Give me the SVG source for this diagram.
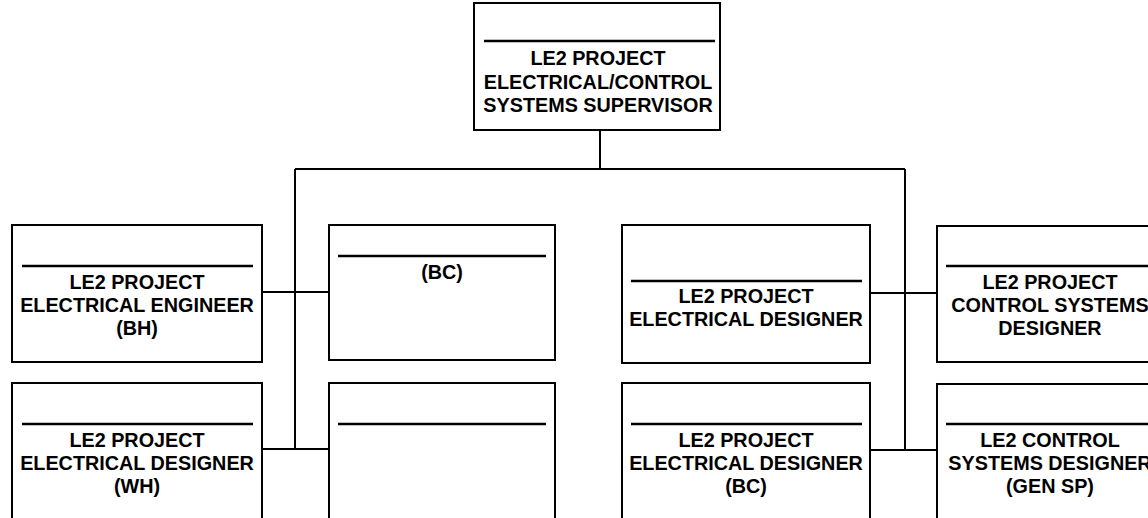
<svg xmlns="http://www.w3.org/2000/svg" width="1148" height="518" viewBox="0 0 1148 518">
<style>
.box{fill:#fff;stroke:#000;stroke-width:2}
.sep{stroke:#000;stroke-width:2.5}
.conn{fill:none;stroke:#000;stroke-width:2}
text{font-family:"Liberation Sans",Arial,sans-serif;font-weight:bold;font-size:19.8px;text-anchor:middle;fill:#000}
</style>
<rect width="1148" height="518" fill="#fff"/>
<g id="connectors">
<path class="conn" d="M600,130 V169 M295,169 H905 M295,169 V449 M905,169 V450 M262,292 H329 M262,449 H329 M870,293 H937 M870,450 H937"/>
</g>
<g id="supervisor">
<rect class="box" x="474" y="3" width="246" height="127"/>
<line class="sep" x1="484" y1="41" x2="715" y2="41"/>
<text x="598" y="65">LE2 PROJECT</text>
<text x="598" y="89">ELECTRICAL/CONTROL</text>
<text x="598" y="112">SYSTEMS SUPERVISOR</text>
</g>
<g id="electrical-engineer">
<rect class="box" x="12" y="225" width="250" height="137"/>
<line class="sep" x1="22" y1="266" x2="253" y2="266"/>
<text x="137" y="289">LE2 PROJECT</text>
<text x="137" y="312">ELECTRICAL ENGINEER</text>
<text x="137" y="335">(BH)</text>
</g>
<g id="bc">
<rect class="box" x="329" y="225" width="226" height="135"/>
<line class="sep" x1="338" y1="256" x2="546" y2="256"/>
<text x="442" y="279">(BC)</text>
</g>
<g id="electrical-designer">
<rect class="box" x="622" y="225" width="248" height="138"/>
<line class="sep" x1="631" y1="281" x2="862" y2="281"/>
<text x="746" y="303">LE2 PROJECT</text>
<text x="746" y="326">ELECTRICAL DESIGNER</text>
</g>
<g id="control-systems-designer">
<rect class="box" x="937" y="226" width="228" height="136"/>
<line class="sep" x1="946" y1="266" x2="1160" y2="266"/>
<text x="1050" y="289">LE2 PROJECT</text>
<text x="1050" y="312">CONTROL SYSTEMS</text>
<text x="1050" y="335">DESIGNER</text>
</g>
<g id="electrical-designer-wh">
<rect class="box" x="12" y="383" width="250" height="142"/>
<line class="sep" x1="22" y1="424" x2="253" y2="424"/>
<text x="137" y="447">LE2 PROJECT</text>
<text x="137" y="470">ELECTRICAL DESIGNER</text>
<text x="137" y="493">(WH)</text>
</g>
<g id="empty">
<rect class="box" x="329" y="383" width="226" height="142"/>
<line class="sep" x1="338" y1="424" x2="546" y2="424"/>
</g>
<g id="electrical-designer-bc">
<rect class="box" x="622" y="383" width="248" height="142"/>
<line class="sep" x1="631" y1="424" x2="862" y2="424"/>
<text x="746" y="447">LE2 PROJECT</text>
<text x="746" y="470">ELECTRICAL DESIGNER</text>
<text x="746" y="493">(BC)</text>
</g>
<g id="control-systems-designer-gen-sp">
<rect class="box" x="937" y="384" width="228" height="141"/>
<line class="sep" x1="946" y1="424" x2="1160" y2="424"/>
<text x="1050" y="447">LE2 CONTROL</text>
<text x="1050" y="470">SYSTEMS DESIGNER</text>
<text x="1050" y="493">(GEN SP)</text>
</g>
</svg>
